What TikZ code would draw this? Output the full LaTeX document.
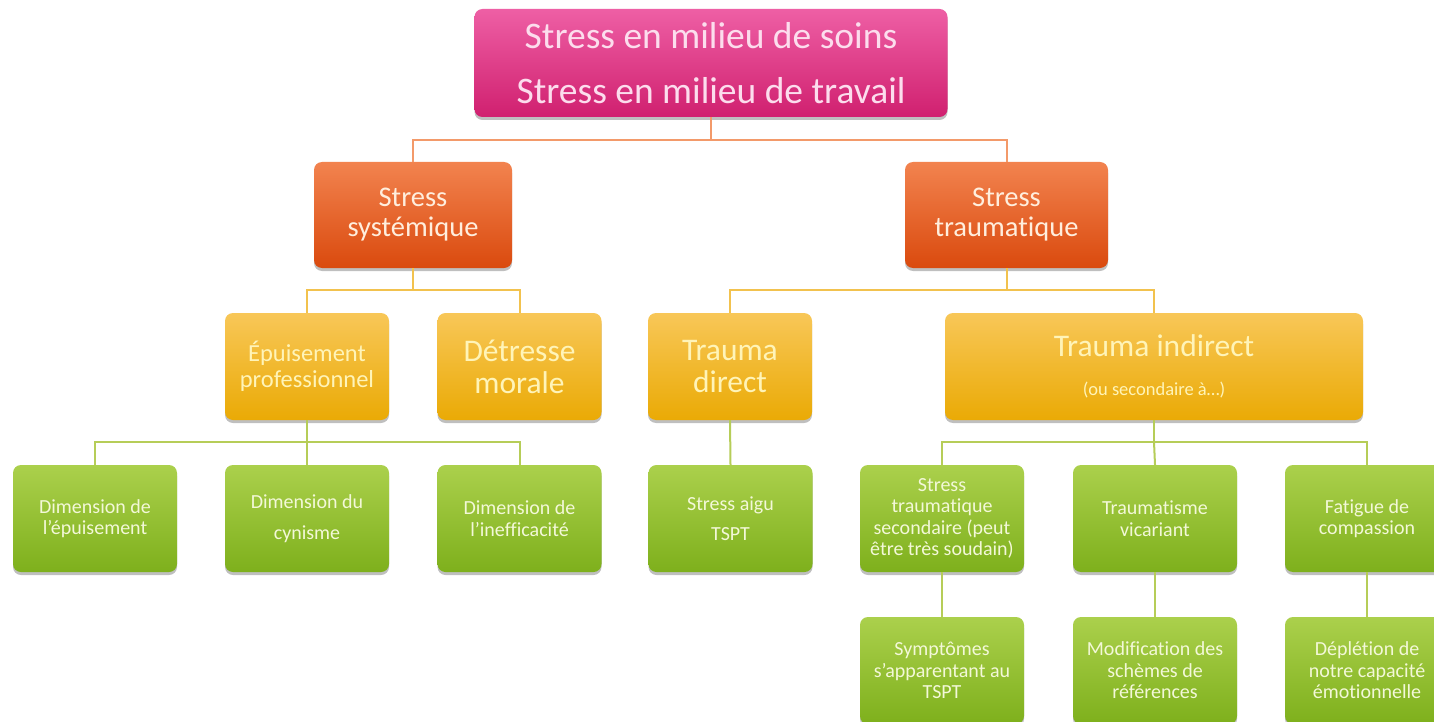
\documentclass[tikz,border=0pt]{standalone}
\usepackage{fontspec}
\setmainfont{Carlito}[Ligatures=NoCommon]
\usetikzlibrary{shadows}
\definecolor{pinkT}{HTML}{EE5FA5}
\definecolor{pinkB}{HTML}{D0206F}
\definecolor{pinkTx}{HTML}{FCDDED}
\definecolor{orT}{HTML}{F2834F}
\definecolor{orB}{HTML}{DA4A0E}
\definecolor{orTx}{HTML}{FFEEDD}
\definecolor{yeT}{HTML}{F8C758}
\definecolor{yeB}{HTML}{EAAA05}
\definecolor{yeTx}{HTML}{FFF4B8}
\definecolor{grT}{HTML}{ABD04C}
\definecolor{grB}{HTML}{7EB01C}
\definecolor{grTx}{HTML}{F3F8D8}
\definecolor{lnOr}{HTML}{F39A6A}
\definecolor{lnYe}{HTML}{F2C24E}
\definecolor{lnGr}{HTML}{B6CD58}
\tikzset{
  boxbase/.style={rectangle, rounded corners=8pt, inner sep=0pt, align=center,
    drop shadow={shadow xshift=0pt, shadow yshift=-3pt, opacity=0.25, fill=black}},
  topbox/.style={boxbase, minimum width=473pt, minimum height=108pt,
    top color=pinkT, bottom color=pinkB, text=pinkTx,
    font=\fontsize{37.5}{55}\selectfont},
  lvtwo/.style={boxbase, minimum width=198pt, minimum height=106pt,
    top color=orT, bottom color=orB, text=orTx,
    font=\fontsize{28.5}{30}\selectfont},
  lvthree/.style={boxbase, minimum width=164pt, minimum height=107pt,
    top color=yeT, bottom color=yeB, text=yeTx,
    font=\fontsize{31.5}{32}\selectfont},
  lvfour/.style={boxbase, minimum width=164pt, minimum height=107pt,
    top color=grT, bottom color=grB, text=grTx,
    font=\fontsize{20}{21.5}\selectfont},
  conOr/.style={draw=lnOr, line width=2pt},
  conYe/.style={draw=lnYe, line width=2pt},
  conGr/.style={draw=lnGr, line width=2pt},
}
\begin{document}
\begin{tikzpicture}[x=1pt,y=-1pt]
\useasboundingbox (0,0) rectangle (1434,722);
\clip (0,0) rectangle (1434,722);
\fill[white] (0,0) rectangle (1434,722);

% level 1
\node[topbox] (top) at (711,63) {Stress en milieu de soins\\Stress en milieu de travail};

% level 2
\node[lvtwo] (sys) at (413,215) {Stress\\systémique};
\node[lvtwo, minimum width=203pt] (trau) at (1006.5,215) {Stress\\traumatique};

% level 3
\node[lvthree, font=\fontsize{24.5}{26}\selectfont] (epu) at (307,366.5) {Épuisement\\professionnel};
\node[lvthree] (det) at (519.5,366.5) {Détresse\\morale};
\node[lvthree] (tdir) at (730,366.5) {Trauma\\direct};
\node[lvthree, minimum width=418pt] (tind) at (1154,366.5) {\raisebox{3pt}{Trauma indirect}\\[4pt]{\fontsize{18.5}{20}\selectfont (ou secondaire à…)}};

% level 4
\node[lvfour] (d1) at (95,518.5) {Dimension de\\l’épuisement};
\node[lvfour] (d2) at (307,518.5) {Dimension du\\[9pt]cynisme};
\node[lvfour] (d3) at (519.5,518.5) {Dimension de\\l’inefficacité};
\node[lvfour] (sa) at (730.5,518.5) {Stress aigu\\[9pt]TSPT};
\node[lvfour] (sts) at (942,518.5) {Stress\\traumatique\\secondaire (peut\\être très soudain)};
\node[lvfour] (tv) at (1155,518.5) {Traumatisme\\vicariant};
\node[lvfour] (fc) at (1367,518.5) {Fatigue de\\compassion};

% level 5
\node[lvfour] (sym) at (942,670.5) {Symptômes\\s’apparentant au\\TSPT};
\node[lvfour] (mod) at (1155,670.5) {Modification des\\schèmes de\\références};
\node[lvfour] (dep) at (1367,670.5) {Déplétion de\\notre capacité\\émotionnelle};

% connectors
\coordinate (b1) at (711,140);
\draw[conOr] (top.south) -- (b1) -| (sys.north);
\draw[conOr] (b1) -| (trau.north);

\coordinate (b2) at (413,290);
\draw[conYe] (sys.south) -- (b2) -| (epu.north);
\draw[conYe] (b2) -| (det.north);
\coordinate (b3) at (1006.5,290);
\draw[conYe] (trau.south) -- (b3) -| (tdir.north);
\draw[conYe] (b3) -| (tind.north);

\coordinate (b4) at (307,442);
\draw[conGr] (epu.south) -- (b4) -| (d1.north);
\draw[conGr] (b4) -- (d2.north);
\draw[conGr] (b4) -| (d3.north);
\draw[conGr] (tdir.south) -- (sa.north);
\coordinate (b5) at (1154,442);
\draw[conGr] (tind.south) -- (b5) -| (sts.north);
\draw[conGr] (b5) -- (tv.north);
\draw[conGr] (b5) -| (fc.north);

\draw[conGr] (sts.south) -- (sym.north);
\draw[conGr] (tv.south) -- (mod.north);
\draw[conGr] (fc.south) -- (dep.north);
\end{tikzpicture}
\end{document}
